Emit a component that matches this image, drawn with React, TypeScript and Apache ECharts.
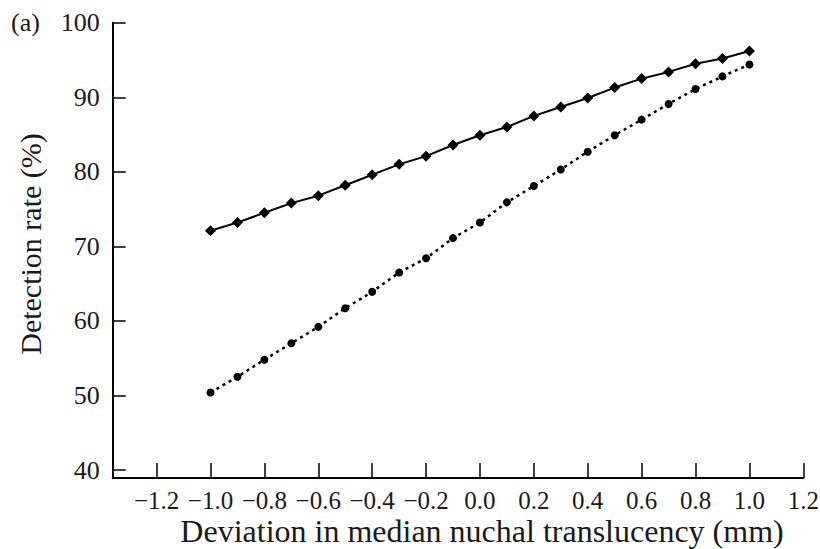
import React, { useEffect, useRef } from "react";
import * as echarts from "echarts";

const deviation = [-1.0, -0.9, -0.8, -0.7, -0.6, -0.5, -0.4, -0.3, -0.2, -0.1, 0.0, 0.1, 0.2, 0.3, 0.4, 0.5, 0.6, 0.7, 0.8, 0.9, 1.0];
const upperRate = [72.1, 73.2, 74.5, 75.8, 76.8, 78.2, 79.6, 81.0, 82.1, 83.6, 84.9, 86.0, 87.5, 88.7, 89.9, 91.3, 92.5, 93.4, 94.5, 95.2, 96.2];
const lowerRate = [50.4, 52.5, 54.8, 57.0, 59.2, 61.7, 63.9, 66.5, 68.4, 71.1, 73.2, 75.9, 78.1, 80.3, 82.7, 84.9, 87.0, 89.1, 91.1, 92.8, 94.4];
const xTicks = [-1.2, -1.0, -0.8, -0.6, -0.4, -0.2, 0.0, 0.2, 0.4, 0.6, 0.8, 1.0, 1.2];
const yTicks = [40, 50, 60, 70, 80, 90, 100];

const FONT = "'Liberation Serif', 'Times New Roman', serif";

export default function App() {
  const ref = useRef<HTMLDivElement>(null);
  useEffect(() => {
    document.body.style.margin = "0";
    const chart = echarts.init(ref.current!, null, { renderer: "svg" });
    const fmtX = (v: number) => {
      const a = Math.abs(v).toFixed(1);
      return v < -1e-9 ? "\u2212" + a : a;
    };
    chart.setOption({
      animation: false,
      backgroundColor: "#ffffff",
      grid: { left: 112.7, right: 16.7, top: 22.7, bottom: 71, outerBoundsMode: "none" },
      xAxis: {
        type: "value",
        min: -1.363,
        max: 1.2,
        axisLine: { show: true, onZero: false, lineStyle: { color: "#000", width: 2 } },
        axisTick: { show: true, inside: true, length: 15, customValues: xTicks, lineStyle: { color: "#000", width: 1.5 } },
        axisLabel: {
          customValues: xTicks,
          formatter: fmtX,
          color: "#1a1a1a",
          fontFamily: FONT,
          fontSize: 25,
          margin: 10,
        },
        splitLine: { show: false },
      },
      yAxis: {
        type: "value",
        min: 38.93,
        max: 100,
        axisLine: { show: true, onZero: false, lineStyle: { color: "#000", width: 2 } },
        axisTick: { show: true, inside: true, length: 13, customValues: yTicks, lineStyle: { color: "#000", width: 1.5 } },
        axisLabel: {
          customValues: yTicks,
          color: "#1a1a1a",
          fontFamily: FONT,
          fontSize: 26,
          margin: 13,
        },
        splitLine: { show: false },
      },
      graphic: [
        {
          type: "text",
          x: 11,
          y: 22,
          style: { text: "(a)", fontFamily: FONT, fontSize: 26, fill: "#1a1a1a", textVerticalAlign: "middle" },
        },
        {
          type: "text",
          x: 482,
          y: 531,
          style: {
            text: "Deviation in median nuchal translucency (mm)",
            fontFamily: FONT,
            fontSize: 32,
            fill: "#1a1a1a",
            textAlign: "center",
            textVerticalAlign: "middle",
          },
        },
        {
          type: "text",
          x: 30,
          y: 244,
          rotation: Math.PI / 2,
          style: {
            text: "Detection rate (%)",
            fontFamily: FONT,
            fontSize: 30,
            fill: "#1a1a1a",
            textAlign: "center",
            textVerticalAlign: "middle",
          },
        },
      ],
      series: [
        {
          type: "line",
          data: deviation.map((x, i) => [x, upperRate[i]]),
          symbol: "diamond",
          symbolSize: [11, 11],
          showSymbol: true,
          itemStyle: { color: "#000" },
          lineStyle: { color: "#000", width: 2 },
        },
        {
          type: "line",
          data: deviation.map((x, i) => [x, lowerRate[i]]),
          symbol: "circle",
          symbolSize: 8,
          showSymbol: true,
          itemStyle: { color: "#000" },
          lineStyle: { color: "#000", width: 2.5, type: [3, 4] },
        },
      ],
    });
    return () => chart.dispose();
  }, []);
  return <div ref={ref} style={{ width: 820, height: 549 }} />;
}
